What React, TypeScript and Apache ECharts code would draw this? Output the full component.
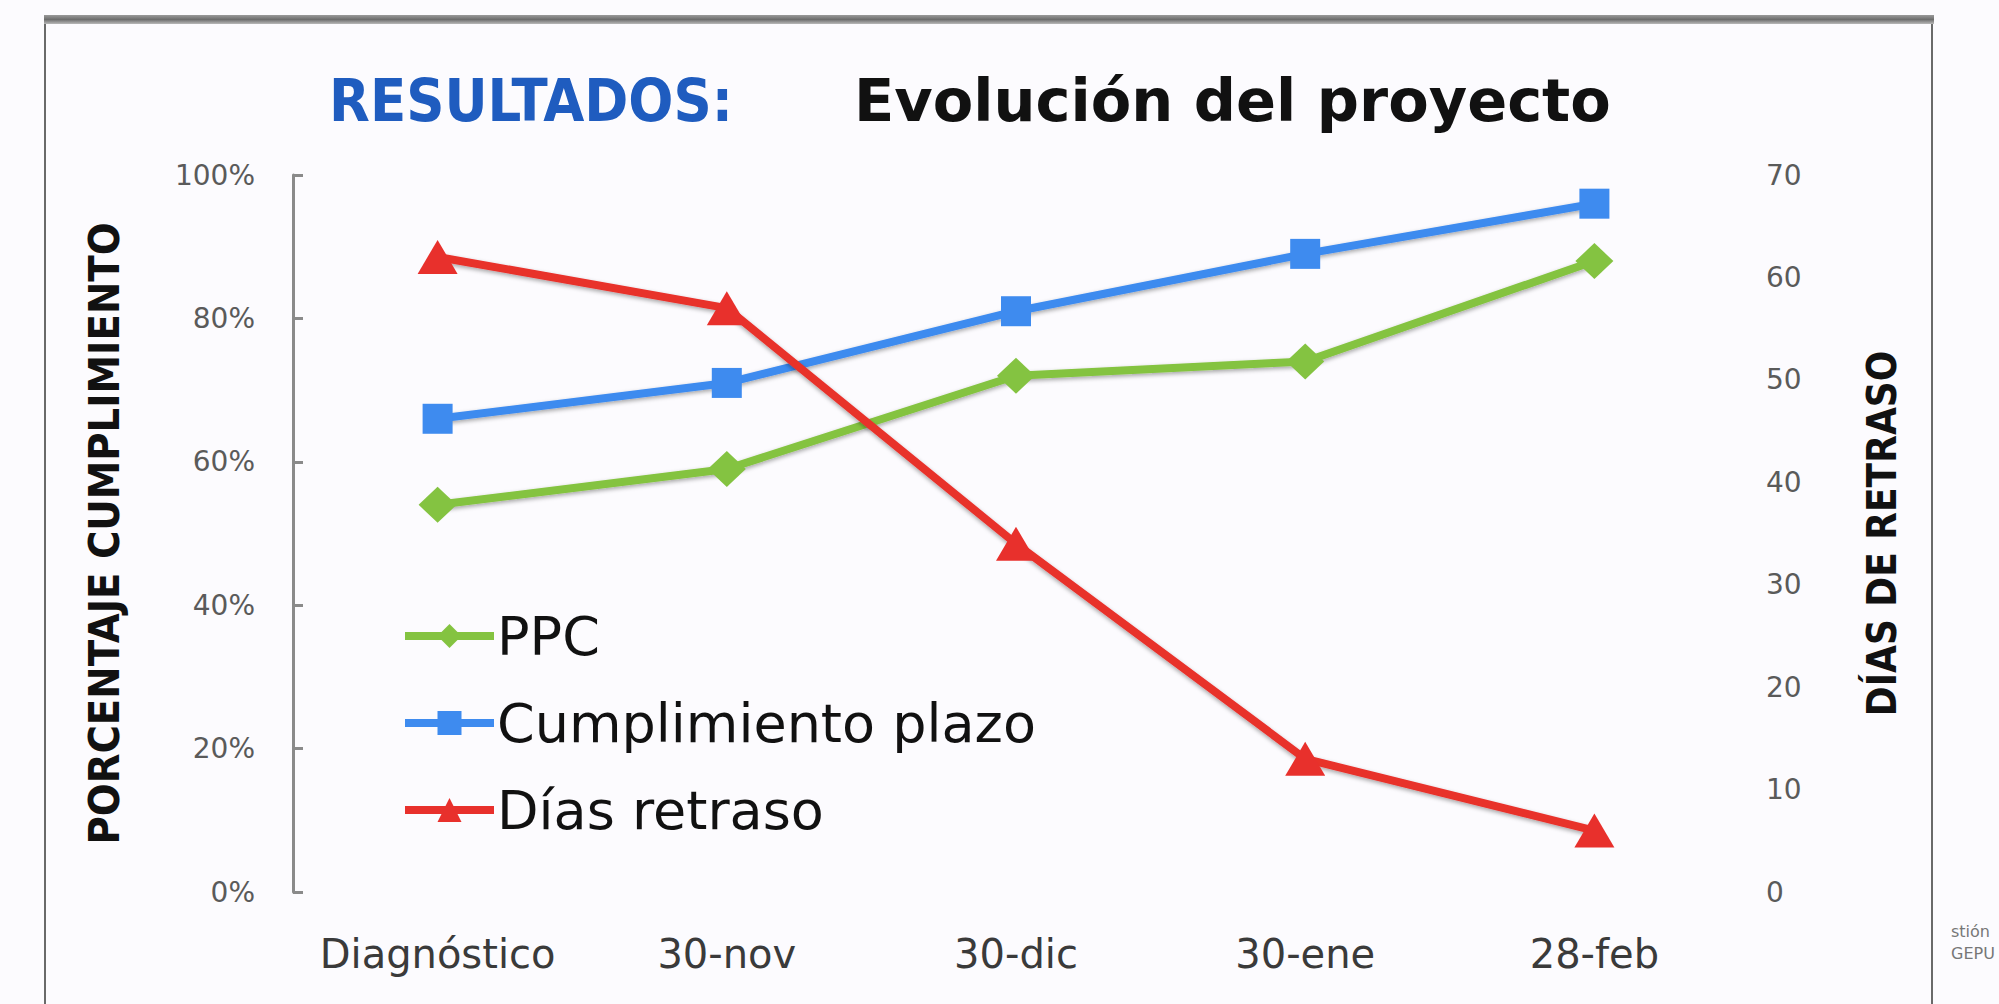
import React, { useEffect, useRef } from "react";
import * as echarts from "echarts";

const categories = ["Diagnóstico", "30-nov", "30-dic", "30-ene", "28-feb"];
const ppc = [54, 59, 72, 74, 88];
const cumplimientoPlazo = [66, 71, 81, 89, 96];
const diasRetraso = [62, 57, 34, 13, 6];
const leftTicks = { min: 0, max: 100, interval: 20 };
const rightTicks = { min: 0, max: 70, interval: 10 };

const GREEN = "#84C341";
const BLUE = "#3E8BEF";
const RED = "#E8302C";
const BG = "#FCFBFE";

export default function App() {
  const ref = useRef<HTMLDivElement>(null);
  useEffect(() => {
    if (!ref.current) return;
    const chart = echarts.init(ref.current, null, { renderer: "svg" });
    const lineShadow = {
      shadowColor: "rgba(0,0,0,0.35)",
      shadowBlur: 4,
      shadowOffsetY: 2,
    };
    const nameStyle = {
      fontWeight: "bold",
      fontFamily: "DejaVu Sans Condensed",
      color: "#111",
    };
    chart.setOption({
      animation: false,
      backgroundColor: BG,
      grid: { left: 293, right: 260, top: 175, bottom: 112, containLabel: false },
      graphic: [
        {
          type: "rect",
          shape: { x: 45, y: 19, width: 1887, height: 1010 },
          style: { fill: "none", stroke: "#6a6a6a", lineWidth: 2 },
          silent: true,
        },
        {
          type: "rect",
          shape: { x: 44, y: 15, width: 1890, height: 9 },
          style: {
            fill: new echarts.graphic.LinearGradient(0, 0, 0, 1, [
              { offset: 0, color: "#9a9a9a" },
              { offset: 0.5, color: "#6e6e6e" },
              { offset: 1, color: "#b8b8b8" },
            ]),
          },
          silent: true,
        },
        {
          type: "text",
          x: 329,
          y: 100,
          style: {
            text: "RESULTADOS:",
            fontSize: 59,
            fontWeight: "bold",
            fontFamily: "DejaVu Sans Condensed",
            fill: "#1F5CBF",
            verticalAlign: "middle",
          },
        },
        {
          type: "text",
          x: 854,
          y: 100,
          style: {
            text: "Evolución del proyecto",
            fontSize: 59,
            fontWeight: "bold",
            fontFamily: "DejaVu Sans",
            fill: "#111111",
            verticalAlign: "middle",
          },
        },
        {
          type: "text",
          x: 1951,
          y: 931,
          style: { text: "stión", fontSize: 16, fontFamily: "DejaVu Sans", fill: "#777", verticalAlign: "middle" },
        },
        {
          type: "text",
          x: 1951,
          y: 953,
          style: { text: "GEPU", fontSize: 16, fontFamily: "DejaVu Sans", fill: "#777", verticalAlign: "middle" },
        },
      ],
      legend: {
        orient: "vertical",
        left: 396,
        top: 604,
        itemWidth: 89,
        itemHeight: 30,
        itemGap: 33,
        lineStyle: { width: 8 },
        textStyle: { fontSize: 54, color: "#111", fontFamily: "DejaVu Sans", padding: [0, 0, 0, -2] },
        data: ["PPC", "Cumplimiento plazo", "Días retraso"],
      },
      xAxis: {
        type: "category",
        data: categories,
        boundaryGap: true,
        axisLine: { show: false },
        axisTick: { show: false },
        axisLabel: { interval: 0, margin: 42, fontSize: 40, color: "#3a3a3a", fontFamily: "DejaVu Sans" },
        splitLine: { show: false },
      },
      yAxis: [
        {
          type: "value",
          ...leftTicks,
          position: "left",
          name: "PORCENTAJE CUMPLIMIENTO",
          nameLocation: "middle",
          nameGap: 168,
          nameRotate: 90,
          nameTextStyle: { ...nameStyle, fontSize: 43 },
          axisLine: { show: true, lineStyle: { color: "#8a8a8a", width: 3 } },
          axisTick: { show: true, inside: true, length: 10, lineStyle: { color: "#8a8a8a", width: 3 } },
          axisLabel: { formatter: "{value}%", fontSize: 28, color: "#5a5a5a", fontFamily: "DejaVu Sans", margin: 38 },
          splitLine: { show: false },
        },
        {
          type: "value",
          ...rightTicks,
          position: "right",
          name: "DÍAS DE RETRASO",
          nameLocation: "middle",
          nameGap: 123,
          nameRotate: 90,
          nameTextStyle: { ...nameStyle, fontSize: 40 },
          axisLine: { show: false },
          axisTick: { show: false },
          axisLabel: { fontSize: 28, color: "#5a5a5a", fontFamily: "DejaVu Sans", margin: 27 },
          splitLine: { show: false },
        },
      ],
      series: [
        {
          name: "PPC",
          type: "line",
          yAxisIndex: 0,
          data: ppc,
          symbol: "diamond",
          symbolSize: [38, 36],
          color: GREEN,
          lineStyle: { width: 8, color: GREEN, ...lineShadow },
          itemStyle: { color: GREEN },
        },
        {
          name: "Cumplimiento plazo",
          type: "line",
          yAxisIndex: 0,
          data: cumplimientoPlazo,
          symbol: "rect",
          symbolSize: 30,
          color: BLUE,
          lineStyle: { width: 8, color: BLUE, ...lineShadow },
          itemStyle: { color: BLUE },
        },
        {
          name: "Días retraso",
          type: "line",
          yAxisIndex: 1,
          data: diasRetraso,
          symbol: "triangle",
          symbolSize: [40, 34],
          color: RED,
          lineStyle: { width: 8, color: RED, ...lineShadow },
          itemStyle: { color: RED },
        },
      ],
    });
    return () => chart.dispose();
  }, []);
  return (
    <div
      ref={ref}
      style={{ position: "fixed", left: 0, top: 0, width: 1999, height: 1004, background: BG }}
    />
  );
}
